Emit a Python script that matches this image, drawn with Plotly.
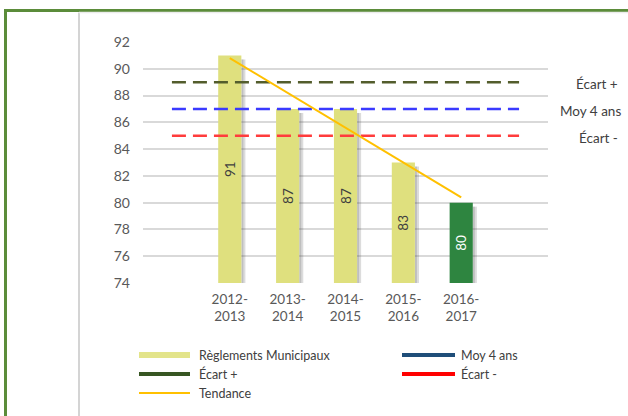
import plotly.graph_objects as go

# ---- data ----
years = ["2012-<br>2013", "2013-<br>2014", "2014-<br>2015", "2015-<br>2016", "2016-<br>2017"]
reglements = [91, 87, 87, 83, 80]
bar_colors = ["#dfe07e", "#dfe07e", "#dfe07e", "#dfe07e", "#2e8540"]
label_colors = ["#404040", "#404040", "#404040", "#404040", "#ffffff"]
# reference lines span the full category axis (blank slot at each end)
slots = [0, 1, 2, 3, 4, 5, 6]
moy_4_ans = [87, 87, 87, 87, 87, 87, 87]
ecart_plus = [89, 89, 89, 89, 89, 89, 89]
ecart_moins = [85, 85, 85, 85, 85, 85, 85]
tendance = [90.8, 88.2, 85.6, 83.0, 80.4]
y_ticks = [74, 76, 78, 80, 82, 84, 86, 88, 90, 92]

FONT = "Lato"
TXT = "#404040"
W, H = 628, 416
ML, MR, MT, MB = 143, 80, 42, 133
PW, PH = W - ML - MR, H - MT - MB

def px(xp):
    return (xp - ML) / PW

def py(yp):
    return (H - MB - yp) / PH

xpos = [1, 2, 3, 4, 5]
base = y_ticks[0]

fig = go.Figure()

# soft shadow of bars
fig.add_trace(go.Bar(
    x=xpos, y=[v - base - 0.3 for v in reglements], base=base,
    width=0.07, offset=0.2, marker=dict(color="rgba(60,60,60,0.18)", line=dict(width=0)),
    hoverinfo="skip", showlegend=False))
fig.add_trace(go.Bar(
    x=xpos, y=[v - base - 0.3 for v in reglements], base=base,
    width=0.035, offset=0.2, marker=dict(color="rgba(60,60,60,0.18)", line=dict(width=0)),
    hoverinfo="skip", showlegend=False))

fig.add_trace(go.Bar(
    x=xpos, y=[v - base for v in reglements], base=base,
    width=0.4, marker=dict(color=bar_colors, line=dict(width=0)),
    text=[str(v) for v in reglements], textposition="inside",
    insidetextanchor="middle", textangle=-90,
    textfont=dict(family=FONT, size=13.5, color=label_colors),
    name="Règlements Municipaux", showlegend=False))

dash = "14px,7px"
fig.add_trace(go.Scatter(x=slots, y=ecart_plus, mode="lines", name="Écart +",
                         line=dict(color="#535d2c", width=2.5, dash=dash), showlegend=False))
fig.add_trace(go.Scatter(x=slots, y=moy_4_ans, mode="lines", name="Moy 4 ans",
                         line=dict(color="#3a3aff", width=2.5, dash=dash), showlegend=False))
fig.add_trace(go.Scatter(x=slots, y=ecart_moins, mode="lines", name="Écart -",
                         line=dict(color="#ff3c3c", width=2.5, dash=dash), showlegend=False))
fig.add_trace(go.Scatter(x=xpos, y=tendance, mode="lines", name="Tendance",
                         line=dict(color="#ffc000", width=2), showlegend=False))

shapes = []
annotations = []

# outer green frame (extends beyond the visible area on right and bottom)
shapes.append(dict(type="rect", xref="paper", yref="paper",
                   x0=px(5.5), y0=py(440), x1=px(660), y1=py(10.5),
                   line=dict(color="#5b8c3a", width=3), layer="below"))
# inner light chart-area border
shapes.append(dict(type="line", xref="paper", yref="paper",
                   x0=px(79), y0=py(12.5), x1=px(79), y1=py(440),
                   line=dict(color="#d4d4d4", width=2), layer="below"))
shapes.append(dict(type="line", xref="paper", yref="paper",
                   x0=px(79), y0=py(12.5), x1=px(640), y1=py(12.5),
                   line=dict(color="#ececec", width=1.5), layer="below"))

# right-side labels for reference lines
for txt, yv, cx in [("Écart +", ecart_plus[0], 597), ("Moy 4 ans", moy_4_ans[0], 590),
                    ("Écart -", ecart_moins[0], 598)]:
    annotations.append(dict(text=txt, xref="paper", yref="y", x=px(cx), y=yv,
                            yshift=-2, showarrow=False, xanchor="center",
                            font=dict(family=FONT, size=13.5, color=TXT)))

# custom legend
legend_items = [
    ("Règlements Municipaux", "#e3e48a", 6, 139, 190, 197, 355),
    ("Moy 4 ans", "#1f4e79", 4, 402, 455, 459, 355),
    ("Écart +", "#375623", 4, 139, 190, 197, 374),
    ("Écart -", "#ff0000", 4, 402, 455, 459, 374),
    ("Tendance", "#ffc000", 2, 139, 190, 197, 393),
]
for name, col, lw, sx0, sx1, tx, yy in legend_items:
    shapes.append(dict(type="line", xref="paper", yref="paper",
                       x0=px(sx0), x1=px(sx1), y0=py(yy), y1=py(yy),
                       line=dict(color=col, width=lw)))
    annotations.append(dict(text=name, xref="paper", yref="paper", x=px(tx), y=py(yy),
                            xanchor="left", yanchor="middle", showarrow=False,
                            font=dict(family=FONT, size=12.5, color=TXT)))

fig.update_layout(
    width=W, height=H,
    margin=dict(l=ML, r=MR, t=MT, b=MB, pad=0),
    paper_bgcolor="white", plot_bgcolor="white",
    barmode="overlay", showlegend=False,
    shapes=shapes, annotations=annotations,
    font=dict(family=FONT, color="#595959"),
    xaxis=dict(range=[-0.5, 6.5], tickvals=xpos, ticktext=years, showgrid=False,
               zeroline=False, showline=False, ticks="", fixedrange=True,
               tickfont=dict(family=FONT, size=13.5, color="#595959"),
               ticklabelstandoff=6),
    yaxis=dict(range=[y_ticks[0], y_ticks[-1]], tickvals=y_ticks, showgrid=True,
               gridcolor="#d9d9d9", gridwidth=1.5, zeroline=False, showline=False,
               ticks="", tickfont=dict(family=FONT, size=14, color="#595959"),
               ticklabelstandoff=12),
)

fig.write_html("out.html", config={"displayModeBar": False},
               post_script="document.body.style.margin='0';document.body.style.overflow='hidden';")
